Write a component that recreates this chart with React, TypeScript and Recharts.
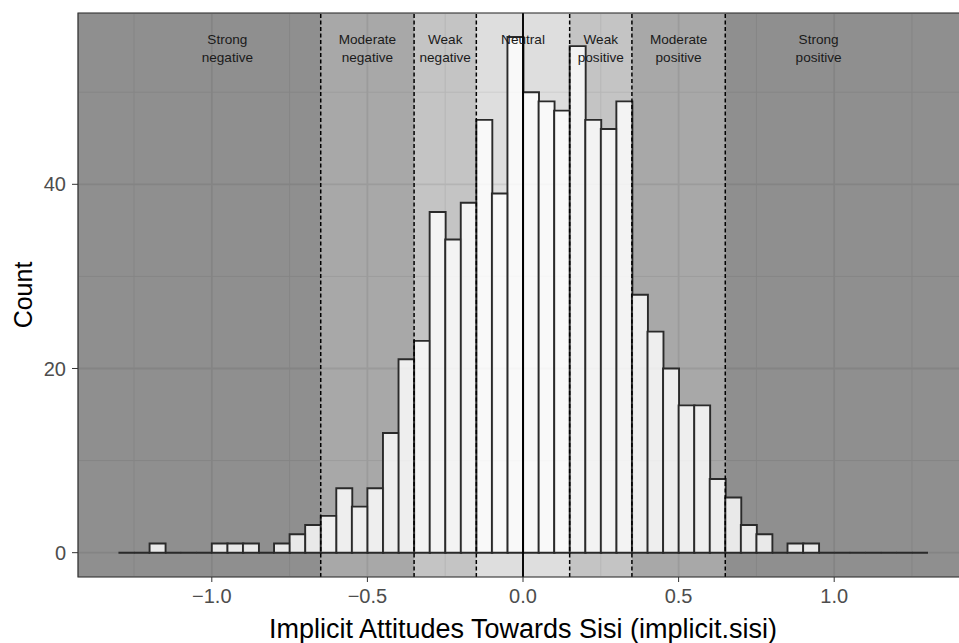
import React from "react";
import {
  ComposedChart,
  Bar,
  XAxis,
  YAxis,
  CartesianGrid,
  ReferenceArea,
  ReferenceLine,
  ReferenceDot,
  Label,
} from "recharts";

// histogram, binwidth 0.05 (bin centres)
const binCenters = [
  -1.275, -1.225, -1.175, -1.125, -1.075, -1.025, -0.975, -0.925, -0.875, -0.825,
  -0.775, -0.725, -0.675, -0.625, -0.575, -0.525, -0.475, -0.425, -0.375, -0.325,
  -0.275, -0.225, -0.175, -0.125, -0.075, -0.025, 0.025, 0.075, 0.125, 0.175,
  0.225, 0.275, 0.325, 0.375, 0.425, 0.475, 0.525, 0.575, 0.625, 0.675,
  0.725, 0.775, 0.825, 0.875, 0.925, 0.975, 1.025, 1.075, 1.125, 1.175,
  1.225, 1.275,
];
const counts = [
  0, 0, 1, 0, 0, 0, 1, 1, 1, 0,
  1, 2, 3, 4, 7, 5, 7, 13, 21, 23,
  37, 34, 38, 47, 39, 56, 50, 49, 48, 55,
  47, 46, 49, 28, 24, 20, 16, 16, 8, 6,
  3, 2, 0, 1, 1, 0, 0, 0, 0, 0,
  0, 0,
];

// shaded regions
const bandStarts = [-1.43, -0.65, -0.35, -0.15, 0.15, 0.35, 0.65];
const bandEnds = [-0.65, -0.35, -0.15, 0.15, 0.35, 0.65, 1.43];
const bandShade = [0.44, 0.34, 0.23, 0.13, 0.23, 0.34, 0.44];
const bandTop = ["Strong", "Moderate", "Weak", "Neutral", "Weak", "Moderate", "Strong"];
const bandBottom = ["negative", "negative", "negative", "", "positive", "positive", "positive"];
const labelX = [-0.95, -0.5, -0.25, 0, 0.25, 0.5, 0.95];
const labelY = 55.8;

const cutoffs = [-0.65, -0.35, -0.15, 0.15, 0.35, 0.65];

const xTicks = [-1, -0.5, 0, 0.5, 1];
const xMinor = [-1.25, -0.75, -0.25, 0.25, 0.75, 1.25];
const yTicks = [0, 20, 40];
const yMinor = [10, 30, 50];

const histData = binCenters.map((x, i) => ({ x, count: counts[i] }));

const fmtX = (v: number) => v.toFixed(1).replace("-", "\u2212");

// path instead of rect so empty bins still draw their outline along the baseline
const HistBar = (props: any) => {
  const { x, y, width, height } = props;
  const h = height || 0;
  return (
    <path
      d={`M${x},${y}h${width}v${h}h${-width}Z`}
      fill="#ffffff"
      fillOpacity={0.8}
      stroke="#2a2a2a"
      strokeWidth={1.9}
    />
  );
};

const bandLabel = (top: string, bottom: string) => (props: any) => {
  const vb = props.viewBox || {};
  const cx = vb.x + (vb.width || 0) / 2;
  const cy = vb.y + (vb.height || 0) / 2;
  return (
    <text x={cx} y={cy} textAnchor="middle" fontSize={13.6} fill="#1a1a1a">
      <tspan x={cx} dy="0.35em">{top}</tspan>
      {bottom ? <tspan x={cx} dy={18}>{bottom}</tspan> : null}
    </text>
  );
};

const countTitle = (props: any) => {
  const vb = props.viewBox || {};
  return (
    <text
      transform={`translate(${vb.x + 23}, ${vb.y + vb.height / 2}) rotate(-90)`}
      textAnchor="middle"
      dominantBaseline="central"
      fontSize={25}
      fill="#000"
    >
      Count
    </text>
  );
};

export default function App() {
  return (
    <div
      style={{
        position: "absolute",
        left: 0,
        top: 0,
        width: 959,
        height: 643,
        overflow: "hidden",
        background: "#fff",
        fontFamily: "'Liberation Sans', Arial, sans-serif",
      }}
    >
      <ComposedChart
        width={969}
        height={643}
        data={histData}
        margin={{ top: 13, right: 1, bottom: 0, left: 0 }}
        barCategoryGap={0}
        barGap={0}
      >
        <CartesianGrid stroke="#ebebeb" strokeWidth={1.8} zIndex={-100} />
        {xMinor.map((v) => (
          <ReferenceLine key={"mx" + v} x={v} stroke="#ebebeb" strokeWidth={0.9} zIndex={-90} />
        ))}
        {yMinor.map((v) => (
          <ReferenceLine key={"my" + v} y={v} stroke="#ebebeb" strokeWidth={0.9} zIndex={-90} />
        ))}
        {bandStarts.map((s, i) => (
          <ReferenceArea
            key={"band" + i}
            x1={s}
            x2={bandEnds[i]}
            fill="#000"
            fillOpacity={bandShade[i]}
            stroke="none"
            ifOverflow="hidden"
            zIndex={-80}
          />
        ))}
        <XAxis
          type="number"
          dataKey="x"
          domain={[-1.43, 1.43]}
          allowDataOverflow
          ticks={xTicks}
          interval={0}
          tickFormatter={fmtX}
          tick={{ fill: "#4d4d4d", fontSize: 20 }}
          tickLine={{ stroke: "#333333" }}
          axisLine={false}
          tickSize={5}
          tickMargin={7}
          height={66}
        >
          <Label
            value="Implicit Attitudes Towards Sisi (implicit.sisi)"
            position="insideBottom"
            offset={5}
            style={{ fontSize: 27, fill: "#000" }}
          />
        </XAxis>
        <YAxis
          type="number"
          domain={[-2.64, 58.6]}
          allowDataOverflow
          ticks={yTicks}
          interval={0}
          tick={{ fill: "#4d4d4d", fontSize: 20 }}
          tickLine={{ stroke: "#333333" }}
          axisLine={false}
          tickSize={6}
          tickMargin={6}
          width={78}
        >
          <Label content={countTitle} />
        </YAxis>
        <Bar dataKey="count" shape={HistBar} isAnimationActive={false} zIndex={300} />
        {cutoffs.map((v) => (
          <ReferenceLine
            key={"cut" + v}
            x={v}
            stroke="#000"
            strokeWidth={1.5}
            strokeDasharray="4 2.5"
            zIndex={350}
          />
        ))}
        <ReferenceLine x={0} stroke="#000" strokeWidth={1.9} zIndex={350} />
        {labelX.map((lx, i) => (
          <ReferenceDot
            key={"lab" + i}
            x={lx}
            y={labelY}
            r={0}
            fill="none"
            stroke="none"
            zIndex={360}
          >
            <Label content={bandLabel(bandTop[i], bandBottom[i])} />
          </ReferenceDot>
        ))}
        <ReferenceArea
          x1={-1.43}
          x2={1.43}
          y1={-2.64}
          y2={58.6}
          fill="none"
          stroke="#333333"
          strokeWidth={1.2}
          ifOverflow="visible"
          zIndex={370}
        />
      </ComposedChart>
    </div>
  );
}
